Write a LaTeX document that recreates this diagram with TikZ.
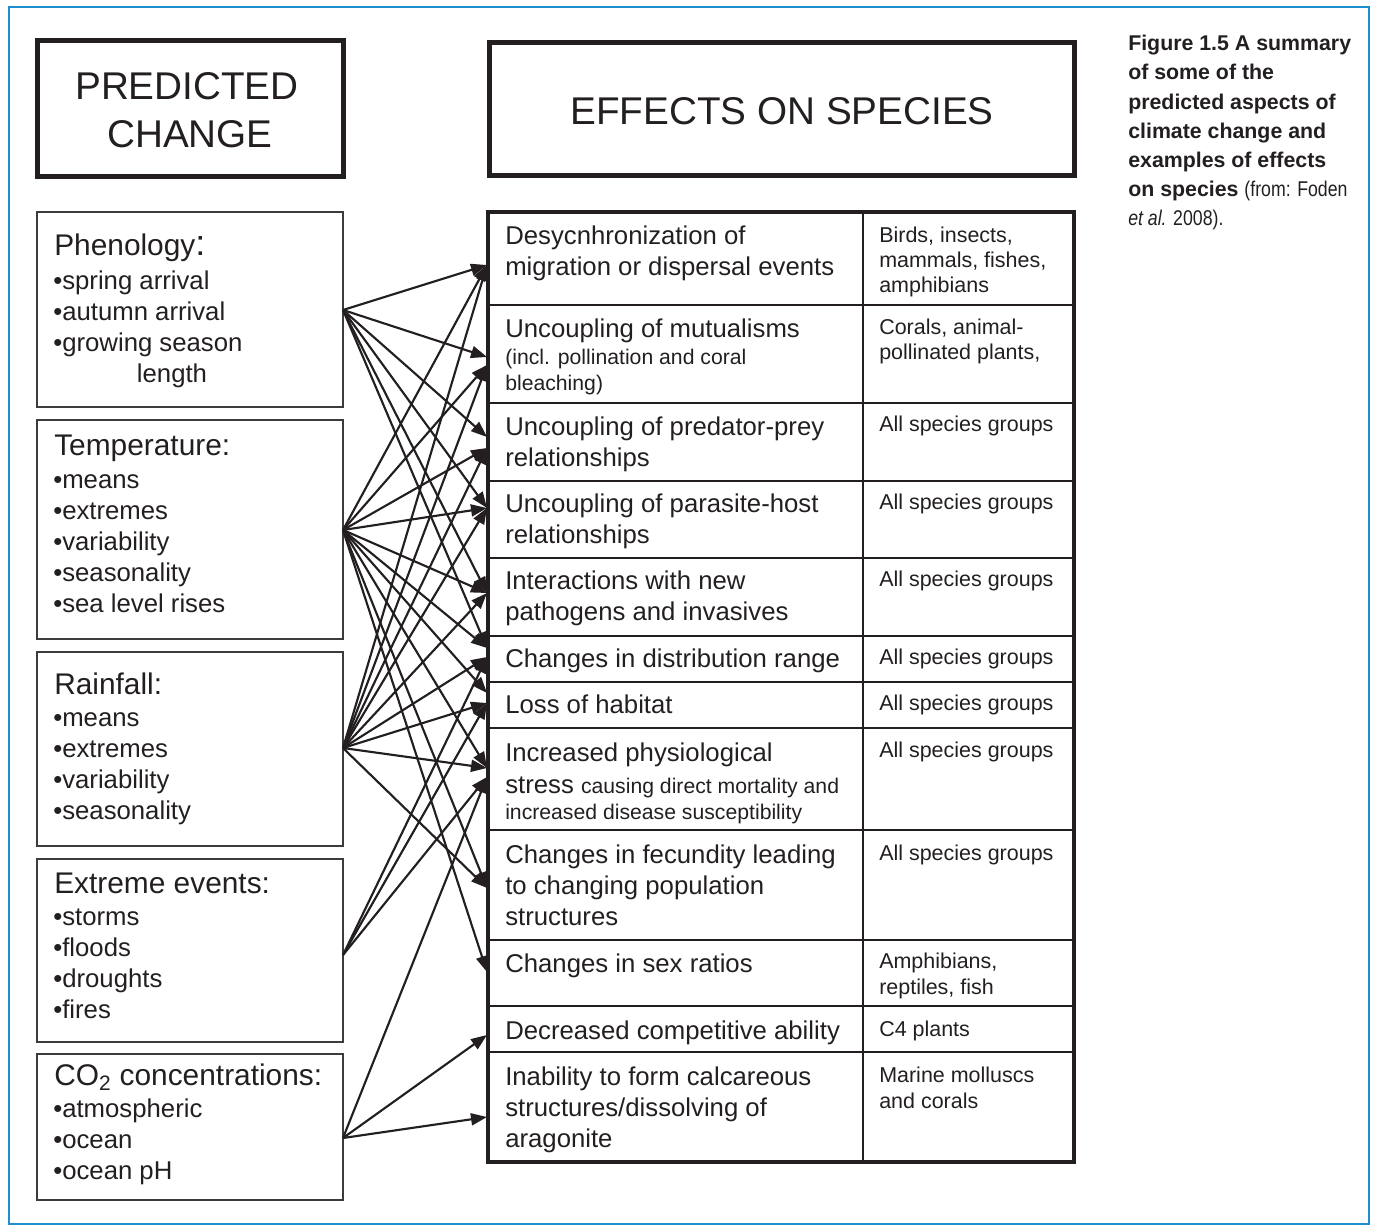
\documentclass[tikz,border=0pt]{standalone}
\usepackage{fontspec}
\setmainfont{Liberation Sans}
\newfontfamily\condfont[FakeStretch=0.83]{Liberation Sans}
\usetikzlibrary{arrows.meta}
\definecolor{frameblue}{RGB}{30,144,210}
\definecolor{boxgray}{RGB}{60,60,60}
\definecolor{ink}{RGB}{35,31,32}
\begin{document}
\begin{tikzpicture}[x=0.75pt,y=-0.75pt,
 txt/.style={inner sep=0pt, anchor=base west, text=ink},
 bul/.style={txt, font=\fontsize{19.3}{23}\selectfont},
 head/.style={txt, font=\fontsize{22.4}{26}\selectfont},
 cell/.style={txt, font=\fontsize{19.3}{23}\selectfont},
 small/.style={txt, font=\fontsize{15.9}{19}\selectfont},
 rcell/.style={txt, font=\fontsize{16.1}{19}\selectfont},
 captxt/.style={txt, font=\fontsize{16}{19}\selectfont\bfseries},
 titletext/.style={inner sep=0pt, anchor=base, text=ink, font=\fontsize{29}{34}\selectfont},
 thinbox/.style={draw=boxgray, line width=1.1pt},
 thickbox/.style={draw=ink, line width=3.75pt},
 tableframe/.style={draw=ink, line width=3pt},
 rule/.style={draw=ink, line width=1.5pt},
 conn/.style={draw=ink, line width=1.6pt, -{Triangle[length=12pt,width=9pt]}},
]
\useasboundingbox (0,0) rectangle (1375,1231);
\draw[frameblue, line width=1.5pt] (9,7) rectangle (1369,1224);

% titles
\draw[thickbox] (37,41) rectangle (343,176);
\node[titletext] (pc1) at (187,100) {PREDICTED};
\node[titletext] (pc2) at (190,147) {CHANGE};
\draw[thickbox] (489.5,42.5) rectangle (1074.5,175.5);
\node[titletext] (eos) at (782,124) {EFFECTS ON SPECIES};

% left boxes
\draw[thinbox] (37,212) rectangle (343,407);
\draw[thinbox] (37,420) rectangle (343,639);
\draw[thinbox] (37,652) rectangle (343,846);
\draw[thinbox] (37,859) rectangle (343,1042);
\draw[thinbox] (37,1054) rectangle (343,1200);

\node[head] (ph-h) at (54,255) {Phenology{\fontsize{27}{27}\selectfont:}};
\foreach \t [count=\i] in {spring arrival, autumn arrival, growing season}
  \node[bul] (ph-\i) at (53,{258+31*\i}) {•\t};
\node[bul, anchor=base] (ph-4) at (172,382) {length};

\node[head] (te-h) at (54,455) {Temperature:};
\foreach \t [count=\i] in {means, extremes, variability, seasonality, sea level rises}
  \node[bul] (te-\i) at (53,{457+31*\i}) {•\t};

\node[head] (ra-h) at (54,694) {Rainfall:};
\foreach \t [count=\i] in {means, extremes, variability, seasonality}
  \node[bul] (ra-\i) at (53,{695+31*\i}) {•\t};

\node[head] (ex-h) at (54,893) {Extreme events:};
\foreach \t [count=\i] in {storms, floods, droughts, fires}
  \node[bul] (ex-\i) at (53,{894+31*\i}) {•\t};

\node[head] (co-h) at (54,1085) {CO\textsubscript{2} concentrations:};
\foreach \t [count=\i] in {atmospheric, ocean, ocean pH}
  \node[bul] (co-\i) at (53,{1086+31*\i}) {•\t};

% table
\draw[tableframe] (488,212) rectangle (1074,1162);
\draw[rule] (863,212) -- (863,1162);
\foreach \y in {305,403,481,558,636,682,728,830,940,1006,1052}
  \draw[rule] (488,\y) -- (1074,\y);

\node[cell] (r1a) at (505,244) {Desycnhronization of};
\node[cell] (r1b) at (505,275) {migration or dispersal events};
\node[rcell] (s1a) at (879,242) {Birds, insects,};
\node[rcell] (s1b) at (879,267) {mammals, fishes,};
\node[rcell] (s1c) at (879,292) {amphibians};

\node[cell] (r2a) at (505,337) {Uncoupling of mutualisms};
\node[small] (r2b) at (505,364) {(incl. pollination and coral};
\node[small] (r2c) at (505,390) {bleaching)};
\node[rcell] (s2a) at (879,334) {Corals, animal-};
\node[rcell] (s2b) at (879,359) {pollinated plants,};

\node[cell] (r3a) at (505,435) {Uncoupling of predator-prey};
\node[cell] (r3b) at (505,466) {relationships};
\node[rcell] (s3) at (879,431) {All species groups};

\node[cell] (r4a) at (505,512) {Uncoupling of parasite-host};
\node[cell] (r4b) at (505,543) {relationships};
\node[rcell] (s4) at (879,509) {All species groups};

\node[cell] (r5a) at (505,589) {Interactions with new};
\node[cell] (r5b) at (505,620) {pathogens and invasives};
\node[rcell] (s5) at (879,586) {All species groups};

\node[cell] (r6) at (505,667) {Changes in distribution range};
\node[rcell] (s6) at (879,664) {All species groups};

\node[cell] (r7) at (505,713) {Loss of habitat};
\node[rcell] (s7) at (879,710) {All species groups};

\node[cell] (r8a) at (505,761) {Increased physiological};
\node[cell] (r8b) at (505,793) {stress {\fontsize{15.9}{19}\selectfont causing direct mortality and}};
\node[small] (r8c) at (505,819) {increased disease susceptibility};
\node[rcell] (s8) at (879,757) {All species groups};

\node[cell] (r9a) at (505,863) {Changes in fecundity leading};
\node[cell] (r9b) at (505,894) {to changing population};
\node[cell] (r9c) at (505,925) {structures};
\node[rcell] (s9) at (879,860) {All species groups};

\node[cell] (r10) at (505,972) {Changes in sex ratios};
\node[rcell] (s10a) at (879,968) {Amphibians,};
\node[rcell] (s10b) at (879,994) {reptiles, fish};

\node[cell] (r11) at (505,1039) {Decreased competitive ability};
\node[rcell] (s11) at (879,1036) {C4 plants};

\node[cell] (r12a) at (505,1085) {Inability to form calcareous};
\node[cell] (r12b) at (505,1116) {structures/dissolving of};
\node[cell] (r12c) at (505,1147) {aragonite};
\node[rcell] (s12a) at (879,1082) {Marine molluscs};
\node[rcell] (s12b) at (879,1108) {and corals};

% caption
\node[captxt] (c1) at (1128,51) {Figure 1.5 A summary};
\node[captxt] (c2) at (1128,80) {of some of the};
\node[captxt] (c3) at (1128,109) {predicted aspects of};
\node[captxt] (c4) at (1128,138) {climate change and};
\node[captxt] (c5) at (1128,167) {examples of effects};
\node[captxt] (c6) at (1128,196) {on species {\mdseries\condfont (from: Foden}};
\node[captxt] (c7) at (1128,225) {\mdseries\condfont{\itshape et al.} 2008).};

% connectors
\coordinate (sP) at (343,310);
\coordinate (sT) at (343,530);
\coordinate (sR) at (343,748);
\coordinate (sE) at (343,955);
\coordinate (sC) at (343,1138);
\coordinate (t1) at (487,265);
\coordinate (t2a) at (487,357);
\coordinate (t2b) at (487,365);
\coordinate (t3a) at (487,437);
\coordinate (t3b) at (487,448);
\coordinate (t4) at (487,508);
\coordinate (t5) at (487,593);
\coordinate (t6a) at (487,648);
\coordinate (t6b) at (487,657);
\coordinate (t7a) at (487,693);
\coordinate (t7b) at (487,703);
\coordinate (t8a) at (487,768);
\coordinate (t8b) at (487,777);
\coordinate (t9) at (487,888);
\coordinate (t10) at (487,972);
\coordinate (t11) at (487,1035);
\coordinate (t12) at (487,1117);

\foreach \t in {t1,t2a,t3a,t4,t5,t6a} \draw[conn] (sP) -- (\t);
\foreach \t in {t1,t2b,t3b,t4,t5,t6a,t7a,t8a,t9,t10} \draw[conn] (sT) -- (\t);
\foreach \t in {t1,t2b,t3b,t4,t5,t6b,t7b,t8a,t9} \draw[conn] (sR) -- (\t);
\foreach \t in {t6b,t7b,t8b} \draw[conn] (sE) -- (\t);
\foreach \t in {t8b,t11,t12} \draw[conn] (sC) -- (\t);
\end{tikzpicture}
\end{document}
